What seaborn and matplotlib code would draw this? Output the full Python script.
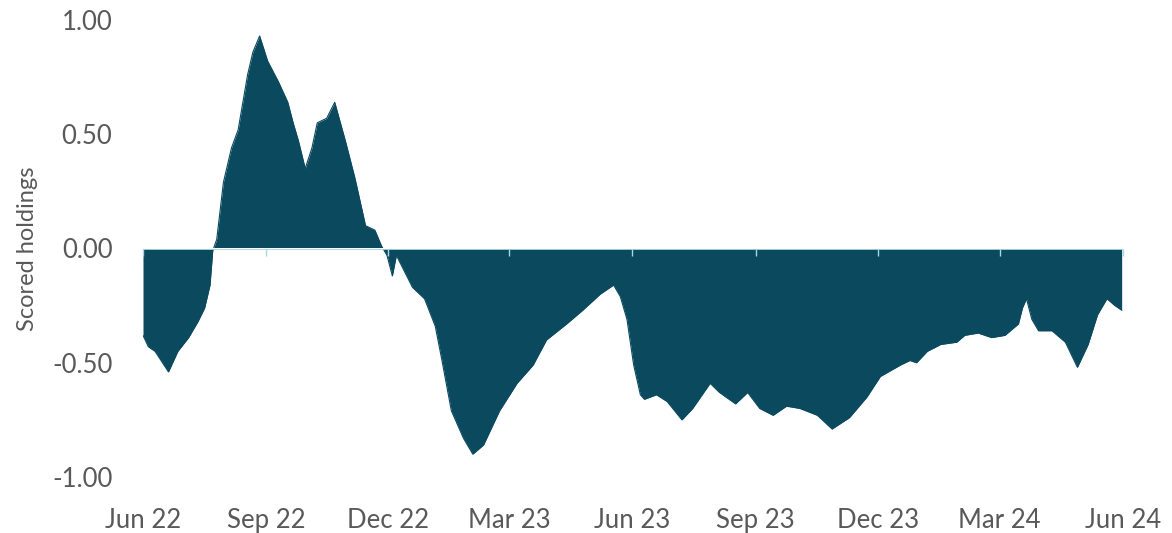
import matplotlib
matplotlib.use("Agg")
import matplotlib.pyplot as plt
import matplotlib.dates as mdates
import seaborn as sns
import pandas as pd

dates = [
    "2022-06-01", "2022-06-05", "2022-06-10", "2022-06-20", "2022-06-27", "2022-07-05",
    "2022-07-12", "2022-07-17", "2022-07-21", "2022-07-23", "2022-07-26", "2022-07-31",
    "2022-08-06", "2022-08-11", "2022-08-18", "2022-08-22", "2022-08-27", "2022-09-02",
    "2022-09-10", "2022-09-17", "2022-09-21", "2022-09-25", "2022-09-30", "2022-10-05",
    "2022-10-09", "2022-10-16", "2022-10-22", "2022-10-30", "2022-11-06", "2022-11-14",
    "2022-11-21", "2022-11-26", "2022-11-30", "2022-12-04", "2022-12-07", "2022-12-13",
    "2022-12-19", "2022-12-28", "2023-01-05", "2023-01-10", "2023-01-17", "2023-01-26",
    "2023-02-02", "2023-02-10", "2023-02-22", "2023-03-07", "2023-03-19", "2023-03-29",
    "2023-04-13", "2023-04-25", "2023-05-08", "2023-05-18", "2023-05-23", "2023-05-28",
    "2023-06-02", "2023-06-07", "2023-06-10", "2023-06-19", "2023-06-27", "2023-07-08",
    "2023-07-16", "2023-07-29", "2023-08-05", "2023-08-17", "2023-08-26", "2023-09-04",
    "2023-09-14", "2023-09-24", "2023-10-04", "2023-10-17", "2023-10-28", "2023-11-10",
    "2023-11-23", "2023-12-03", "2023-12-18", "2023-12-25", "2023-12-30", "2024-01-07",
    "2024-01-17", "2024-01-29", "2024-02-04", "2024-02-14", "2024-02-24", "2024-03-05",
    "2024-03-15", "2024-03-18", "2024-03-21", "2024-03-25", "2024-03-30", "2024-04-09",
    "2024-04-19", "2024-04-28", "2024-05-06", "2024-05-13", "2024-05-20", "2024-05-26",
    "2024-05-31",
]
scores = [
    -0.38, -0.43, -0.45, -0.54, -0.45, -0.39,
    -0.32, -0.26, -0.16, -0.01, 0.04, 0.29,
    0.44, 0.52, 0.76, 0.86, 0.93, 0.82,
    0.73, 0.64, 0.55, 0.47, 0.35, 0.44,
    0.55, 0.57, 0.64, 0.47, 0.31, 0.10,
    0.08, 0.01, -0.03, -0.12, -0.03, -0.10,
    -0.17, -0.22, -0.34, -0.49, -0.71, -0.83,
    -0.90, -0.86, -0.71, -0.59, -0.51, -0.40,
    -0.33, -0.27, -0.20, -0.16, -0.21, -0.31,
    -0.51, -0.64, -0.66, -0.64, -0.67, -0.75,
    -0.70, -0.59, -0.63, -0.68, -0.63, -0.70,
    -0.73, -0.69, -0.70, -0.73, -0.79, -0.74,
    -0.65, -0.56, -0.51, -0.49, -0.50, -0.45,
    -0.42, -0.41, -0.38, -0.37, -0.39, -0.38,
    -0.33, -0.26, -0.22, -0.31, -0.36, -0.36,
    -0.41, -0.52, -0.42, -0.29, -0.22, -0.25,
    -0.27,
]
y_ticks = [-1.0, -0.5, 0.0, 0.5, 1.0]
y_label = "Scored holdings"

df = pd.DataFrame({"date": pd.to_datetime(dates), "score": scores})

sns.set_theme(style="white")
plt.rcParams["font.family"] = ["Lato", "DejaVu Sans"]

fill_color = "#0b4a5e"
zero_color = "#a9d6e5"
text_color = "#595959"

fig = plt.figure(figsize=(11.72, 5.33), dpi=100)
ax = fig.add_axes([143 / 1172, 1 - 477 / 533, (1123 - 143) / 1172, (477 - 20) / 533])

ax.fill_between(df["date"], df["score"], 0, color=fill_color, linewidth=0, zorder=2)
sns.lineplot(data=df, x="date", y="score", ax=ax, color=fill_color, linewidth=0.8, zorder=2)

ax.axhline(0, color=zero_color, linewidth=1.3, zorder=3)

ax.set_xlim(pd.Timestamp("2022-06-01"), pd.Timestamp("2024-06-01"))
ax.set_ylim(-1.0, 1.0)
ax.set_yticks(y_ticks)
ax.set_yticklabels([f"{v:.2f}" for v in y_ticks])

quarter_locator = mdates.MonthLocator(bymonth=[3, 6, 9, 12])
ax.xaxis.set_major_locator(quarter_locator)
ax.xaxis.set_major_formatter(mdates.DateFormatter("%b %y"))

for s in ax.spines.values():
    s.set_visible(False)

ax.tick_params(axis="x", length=0, pad=22, labelsize=18.5, labelcolor=text_color)
ax.tick_params(axis="y", length=0, pad=22, labelsize=18.5, labelcolor=text_color)

# small tick marks hanging below the zero line
sec = ax.secondary_xaxis(0.5)
sec.set_zorder(10)
sec.xaxis.set_major_locator(mdates.MonthLocator(bymonth=[3, 6, 9, 12]))
sec.xaxis.set_ticks_position("bottom")
for s in sec.spines.values():
    s.set_visible(False)
sec.tick_params(axis="x", which="both", direction="out", length=5, width=1,
                color=zero_color, labelbottom=False, labeltop=False,
                bottom=True, top=False)

ax.set_xlabel("")
ax.set_ylabel(y_label, fontsize=17, color=text_color, labelpad=10)
ax.grid(False)

fig.savefig("out.png", dpi=100)
